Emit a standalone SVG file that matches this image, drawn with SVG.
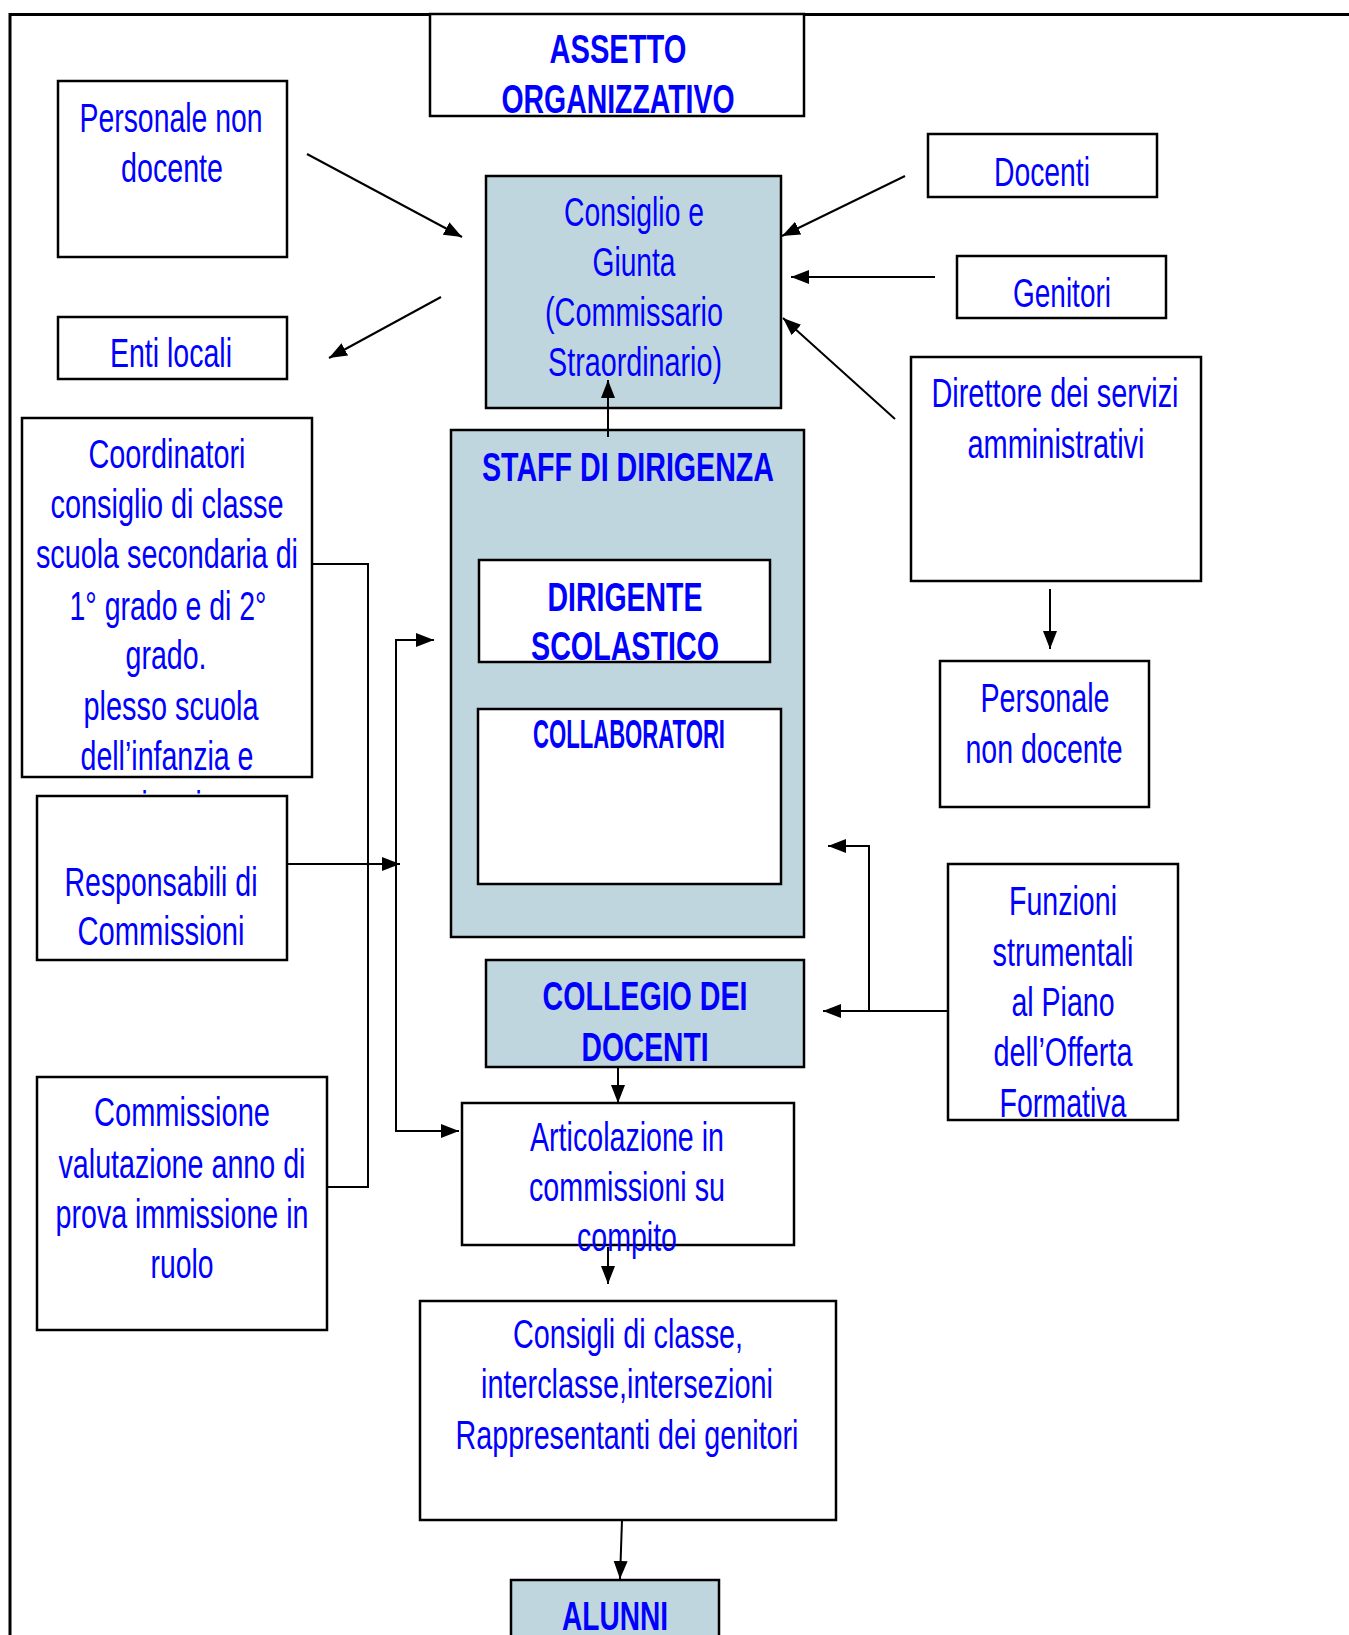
<svg xmlns="http://www.w3.org/2000/svg" width="1349" height="1635" viewBox="0 0 1349 1635">
<style>
.box{fill:#ffffff;stroke:#000000;stroke-width:2.5}
.fill{fill:#c0d6de;stroke:#000000;stroke-width:2.5}
.t{font-family:"Liberation Sans",Arial,sans-serif;font-size:40px;fill:#0000ff;text-anchor:middle}
.b{font-family:"Liberation Sans",Arial,sans-serif;font-size:40px;font-weight:bold;fill:#0000ff;text-anchor:middle}
.c{fill:none;stroke:#000000;stroke-width:2}
.frame{fill:none;stroke:#000000;stroke-width:3}
</style>
<defs>
<marker id="ah" markerUnits="userSpaceOnUse" markerWidth="20" markerHeight="16" refX="18" refY="7" orient="auto-start-reverse">
<path d="M0,0 L18,7 L0,14 z" fill="#000000"/>
</marker>
</defs>
<rect width="1349" height="1635" fill="#ffffff"/>
<path class="frame" d="M10,1635 V14.5 H1349"/>

<g id="assetto">
<rect class="box" x="430" y="14" width="374" height="102"/>
<text class="b" x="618" y="63" textLength="137" lengthAdjust="spacingAndGlyphs">ASSETTO</text>
<text class="b" x="618" y="113" textLength="233" lengthAdjust="spacingAndGlyphs">ORGANIZZATIVO</text>
</g>

<g id="personale-non-docente-1">
<rect class="box" x="58" y="81" width="229" height="176"/>
<text class="t" x="171" y="132" font-size="41" textLength="183" lengthAdjust="spacingAndGlyphs">Personale non</text>
<text class="t" x="172" y="182" font-size="41" textLength="102" lengthAdjust="spacingAndGlyphs">docente</text>
</g>

<g id="enti-locali">
<rect class="box" x="58" y="317" width="229" height="62"/>
<text class="t" x="171" y="367" textLength="122" lengthAdjust="spacingAndGlyphs">Enti locali</text>
</g>

<g id="consiglio">
<rect class="fill" x="486" y="176" width="295" height="232"/>
<text class="t" x="634" y="226" textLength="140" lengthAdjust="spacingAndGlyphs">Consiglio e</text>
<text class="t" x="634" y="276" textLength="83" lengthAdjust="spacingAndGlyphs">Giunta</text>
<text class="t" x="634" y="326" textLength="178" lengthAdjust="spacingAndGlyphs">(Commissario</text>
<text class="t" x="635" y="376" textLength="174" lengthAdjust="spacingAndGlyphs">Straordinario)</text>
</g>

<g id="docenti">
<rect class="box" x="928" y="134" width="229" height="63"/>
<text class="t" x="1042" y="186" textLength="96" lengthAdjust="spacingAndGlyphs">Docenti</text>
</g>

<g id="genitori">
<rect class="box" x="957" y="256" width="209" height="62"/>
<text class="t" x="1062" y="307" textLength="98" lengthAdjust="spacingAndGlyphs">Genitori</text>
</g>

<g id="direttore">
<rect class="box" x="911" y="357" width="290" height="224"/>
<text class="t" x="1055" y="407" textLength="247" lengthAdjust="spacingAndGlyphs">Direttore dei servizi</text>
<text class="t" x="1056" y="458" textLength="177" lengthAdjust="spacingAndGlyphs">amministrativi</text>
</g>

<g id="personale-non-docente-2">
<rect class="box" x="940" y="661" width="209" height="146"/>
<text class="t" x="1045" y="712" textLength="129" lengthAdjust="spacingAndGlyphs">Personale</text>
<text class="t" x="1044" y="763" textLength="157" lengthAdjust="spacingAndGlyphs">non docente</text>
</g>

<g id="funzioni">
<rect class="box" x="948" y="864" width="230" height="256"/>
<text class="t" x="1063" y="915" textLength="108" lengthAdjust="spacingAndGlyphs">Funzioni</text>
<text class="t" x="1063" y="966" textLength="141" lengthAdjust="spacingAndGlyphs">strumentali</text>
<text class="t" x="1063" y="1016" textLength="103" lengthAdjust="spacingAndGlyphs">al Piano</text>
<text class="t" x="1063" y="1066" textLength="139" lengthAdjust="spacingAndGlyphs">dell’Offerta</text>
<text class="t" x="1063" y="1117" textLength="127" lengthAdjust="spacingAndGlyphs">Formativa</text>
</g>

<g id="coordinatori">
<rect class="box" x="22" y="418" width="290" height="359"/>
<text class="t" x="167" y="468" textLength="157" lengthAdjust="spacingAndGlyphs">Coordinatori</text>
<text class="t" x="167" y="518" textLength="233" lengthAdjust="spacingAndGlyphs">consiglio di classe</text>
<text class="t" x="167" y="568" textLength="262" lengthAdjust="spacingAndGlyphs">scuola secondaria di</text>
<text class="t" x="168" y="620" textLength="197" lengthAdjust="spacingAndGlyphs">1° grado e di 2°</text>
<text class="t" x="166" y="669" textLength="81" lengthAdjust="spacingAndGlyphs">grado.</text>
<text class="t" x="171" y="720" textLength="175" lengthAdjust="spacingAndGlyphs">plesso scuola</text>
<text class="t" x="167" y="770" textLength="173" lengthAdjust="spacingAndGlyphs">dell’infanzia e</text>
<text class="t" x="167" y="820" textLength="100" lengthAdjust="spacingAndGlyphs">primaria</text>
</g>

<g id="responsabili">
<rect class="box" x="37" y="796" width="250" height="164"/>
<text class="t" x="161" y="896" textLength="193" lengthAdjust="spacingAndGlyphs">Responsabili di</text>
<text class="t" x="161" y="945" textLength="167" lengthAdjust="spacingAndGlyphs">Commissioni</text>
</g>

<g id="commissione">
<rect class="box" x="37" y="1077" width="290" height="253"/>
<text class="t" x="182" y="1126" textLength="176" lengthAdjust="spacingAndGlyphs">Commissione</text>
<text class="t" x="182" y="1178" textLength="247" lengthAdjust="spacingAndGlyphs">valutazione anno di</text>
<text class="t" x="182" y="1228" textLength="253" lengthAdjust="spacingAndGlyphs">prova immissione in</text>
<text class="t" x="182" y="1278" textLength="63" lengthAdjust="spacingAndGlyphs">ruolo</text>
</g>

<g id="staff">
<rect class="fill" x="451" y="430" width="353" height="507"/>
<text class="b" x="628" y="481" font-size="41" textLength="292" lengthAdjust="spacingAndGlyphs">STAFF DI DIRIGENZA</text>
</g>

<g id="dirigente">
<rect class="box" x="479" y="560" width="291" height="102"/>
<text class="b" x="625" y="611" font-size="42" textLength="155" lengthAdjust="spacingAndGlyphs">DIRIGENTE</text>
<text class="b" x="625" y="660" font-size="42" textLength="188" lengthAdjust="spacingAndGlyphs">SCOLASTICO</text>
</g>

<g id="collaboratori">
<rect class="box" x="478" y="709" width="303" height="175"/>
<text class="b" x="629" y="748" font-size="30" textLength="192" lengthAdjust="spacingAndGlyphs">COLLABORATORI</text>
</g>

<g id="collegio">
<rect class="fill" x="486" y="960" width="318" height="107"/>
<text class="b" x="645" y="1010" font-size="39" textLength="205" lengthAdjust="spacingAndGlyphs">COLLEGIO DEI</text>
<text class="b" x="645" y="1061" font-size="39" textLength="127" lengthAdjust="spacingAndGlyphs">DOCENTI</text>
</g>

<g id="articolazione">
<rect class="box" x="462" y="1103" width="332" height="142"/>
<text class="t" x="627" y="1151" textLength="194" lengthAdjust="spacingAndGlyphs">Articolazione in</text>
<text class="t" x="627" y="1201" textLength="196" lengthAdjust="spacingAndGlyphs">commissioni su</text>
<text class="t" x="627" y="1251" textLength="100" lengthAdjust="spacingAndGlyphs">compito</text>
</g>

<g id="consigli-classe">
<rect class="box" x="420" y="1301" width="416" height="219"/>
<text class="t" x="628" y="1348" textLength="230" lengthAdjust="spacingAndGlyphs">Consigli di classe,</text>
<text class="t" x="627" y="1398" textLength="292" lengthAdjust="spacingAndGlyphs">interclasse,intersezioni</text>
<text class="t" x="627" y="1449" textLength="343" lengthAdjust="spacingAndGlyphs">Rappresentanti dei genitori</text>
</g>

<g id="alunni">
<rect class="fill" x="511" y="1580" width="208" height="70"/>
<text class="b" x="615" y="1630" font-size="39" textLength="106" lengthAdjust="spacingAndGlyphs">ALUNNI</text>
</g>

<g id="connectors">
<line class="c" x1="307" y1="154" x2="462" y2="237" marker-end="url(#ah)"/>
<line class="c" x1="441" y1="297" x2="329" y2="358" marker-end="url(#ah)"/>
<line class="c" x1="905" y1="176" x2="782" y2="236" marker-end="url(#ah)"/>
<line class="c" x1="935" y1="277" x2="791" y2="277" marker-end="url(#ah)"/>
<line class="c" x1="895" y1="419" x2="783" y2="318" marker-end="url(#ah)"/>
<line class="c" x1="608" y1="437" x2="608" y2="380" marker-end="url(#ah)"/>
<line class="c" x1="1050" y1="589" x2="1050" y2="649" marker-end="url(#ah)"/>
<polyline class="c" points="312,564 368,564 368,1187 328,1187"/>
<path class="c" d="M434,640 H396 V1131 H459" marker-start="url(#ah)" marker-end="url(#ah)"/>
<line class="c" x1="287" y1="864" x2="400" y2="864" marker-end="url(#ah)"/>
<line class="c" x1="948" y1="1011" x2="823" y2="1011" marker-end="url(#ah)"/>
<path class="c" d="M869,1011 V846 H828" marker-end="url(#ah)"/>
<line class="c" x1="618" y1="1067" x2="618" y2="1103" marker-end="url(#ah)"/>
<line class="c" x1="608" y1="1247" x2="608" y2="1284" marker-end="url(#ah)"/>
<line class="c" x1="622" y1="1520" x2="620" y2="1579" marker-end="url(#ah)"/>
</g>
</svg>
